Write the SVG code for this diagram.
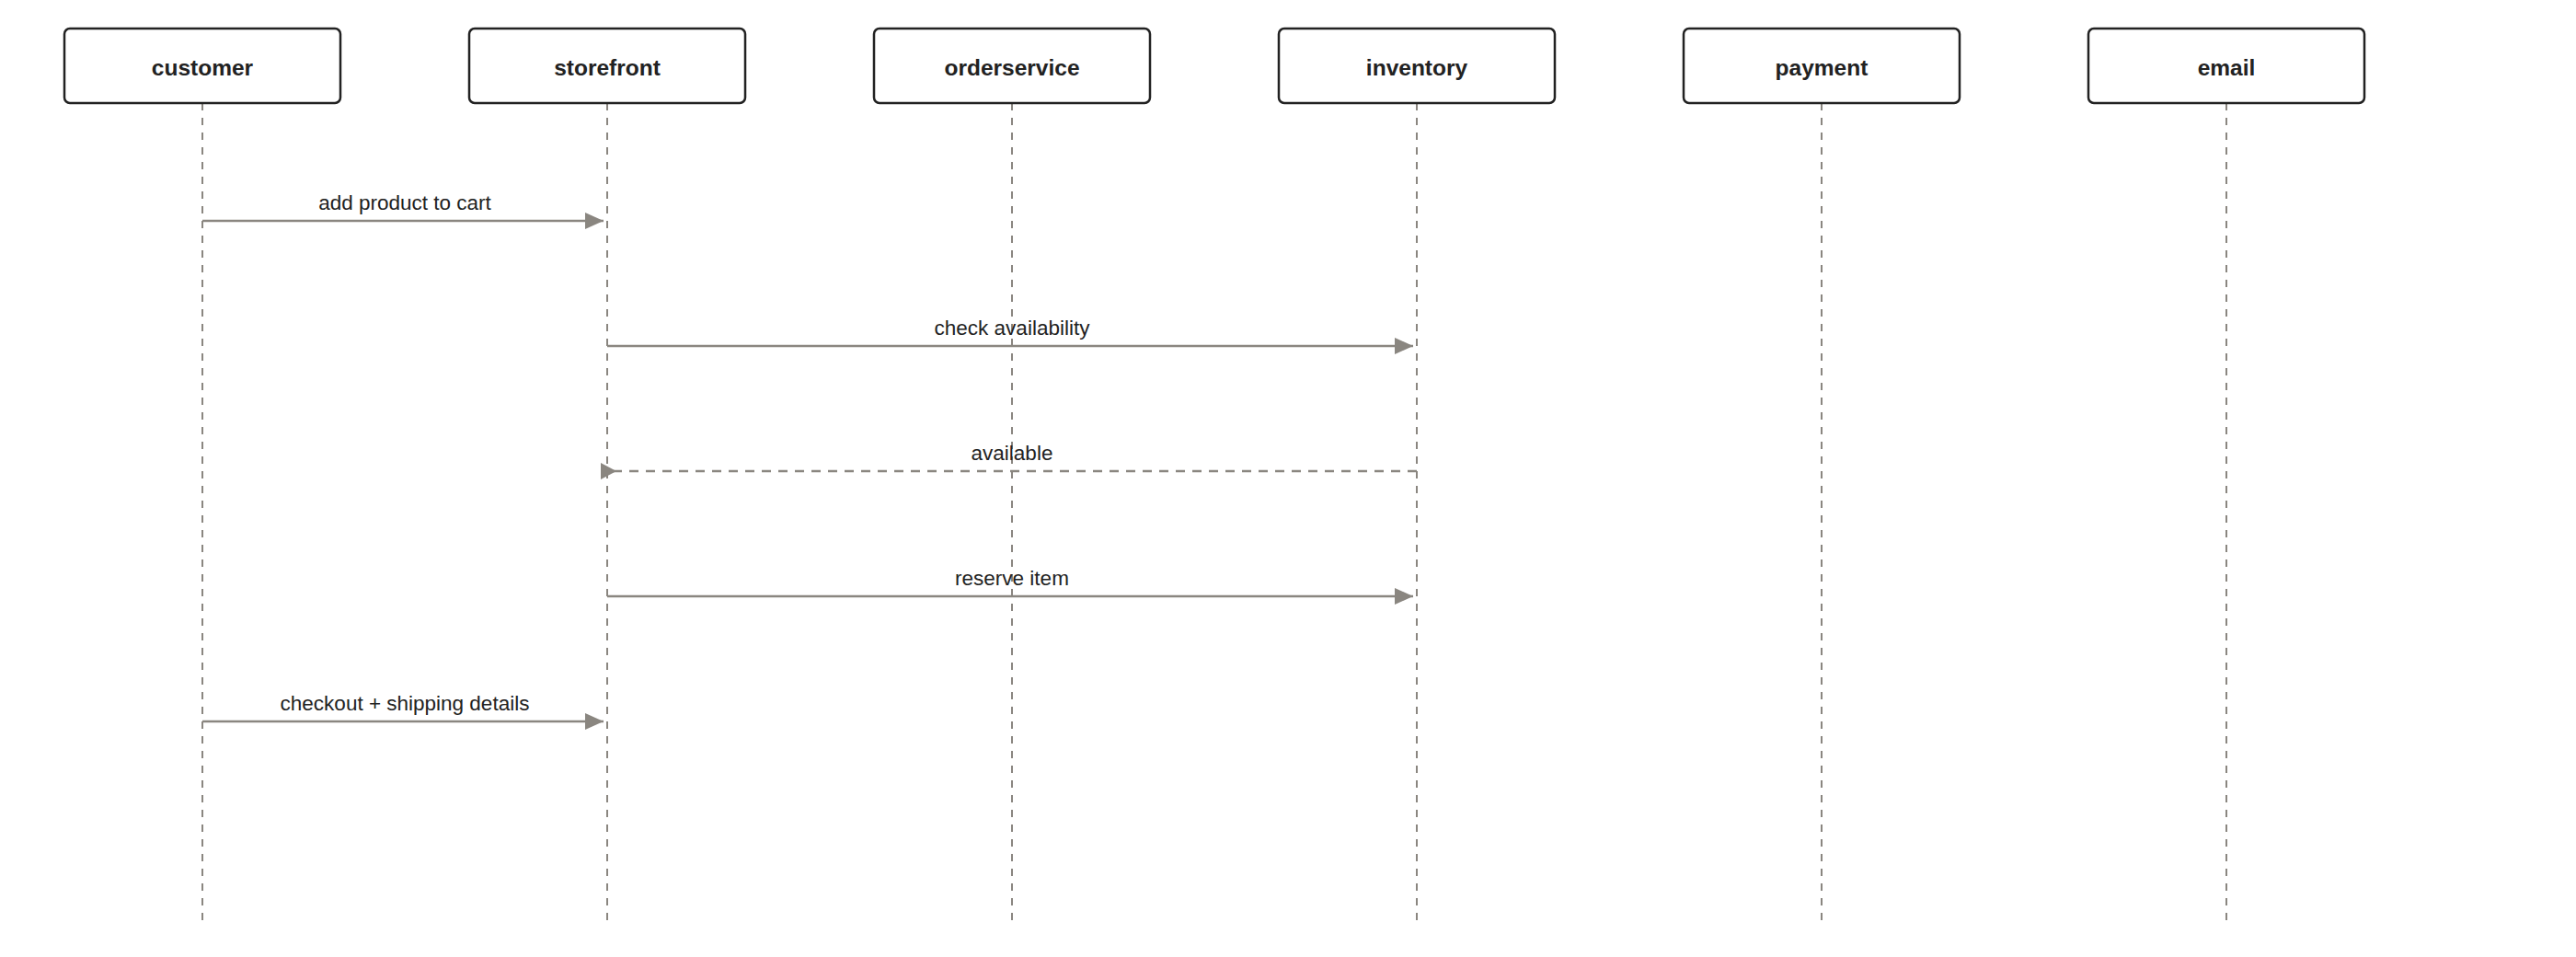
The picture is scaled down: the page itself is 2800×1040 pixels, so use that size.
<svg xmlns="http://www.w3.org/2000/svg" width="2800" height="1040" viewBox="0 0 2800 1040">
<style>
.box{fill:#ffffff;stroke:#222222;stroke-width:2.5}
.title{font-family:"Liberation Sans",Arial,sans-serif;font-weight:bold;font-size:24.5px;fill:#222222;text-anchor:middle}
.life{stroke:#8a8680;stroke-width:2;stroke-dasharray:8 8;fill:none}
.msg{stroke:#8a8680;stroke-width:2.5;fill:none}
.ret{stroke:#8a8680;stroke-width:2.5;fill:none;stroke-dasharray:10 8}
.lbl{font-family:"Liberation Sans",Arial,sans-serif;font-size:22.5px;fill:#222222;text-anchor:middle}
</style>
<defs>
<marker id="ah" markerWidth="20" markerHeight="18" refX="20" refY="9" orient="auto" markerUnits="userSpaceOnUse">
<path d="M0,0 L20,9 L0,18 Z" fill="#8a8680"/>
</marker>
<marker id="ahr" markerWidth="18" markerHeight="18" refX="3" refY="9" orient="0" markerUnits="userSpaceOnUse">
<path d="M0,0 L17,9 L0,18 Z" fill="#8a8680"/>
</marker>
</defs>
<g id="customer">
<line class="life" x1="220" y1="112" x2="220" y2="1000"/>
<rect class="box" x="70" y="31" width="300" height="81" rx="6"/>
<text class="title" x="220" y="82">customer</text>
</g>
<g id="storefront">
<line class="life" x1="660" y1="112" x2="660" y2="1000"/>
<rect class="box" x="510" y="31" width="300" height="81" rx="6"/>
<text class="title" x="660" y="82">storefront</text>
</g>
<g id="orderservice">
<line class="life" x1="1100" y1="112" x2="1100" y2="1000"/>
<rect class="box" x="950" y="31" width="300" height="81" rx="6"/>
<text class="title" x="1100" y="82">orderservice</text>
</g>
<g id="inventory">
<line class="life" x1="1540" y1="112" x2="1540" y2="1000"/>
<rect class="box" x="1390" y="31" width="300" height="81" rx="6"/>
<text class="title" x="1540" y="82">inventory</text>
</g>
<g id="payment">
<line class="life" x1="1980" y1="112" x2="1980" y2="1000"/>
<rect class="box" x="1830" y="31" width="300" height="81" rx="6"/>
<text class="title" x="1980" y="82">payment</text>
</g>
<g id="email">
<line class="life" x1="2420" y1="112" x2="2420" y2="1000"/>
<rect class="box" x="2270" y="31" width="300" height="81" rx="6"/>
<text class="title" x="2420" y="82">email</text>
</g>
<g id="connectors">
<line class="msg" x1="220" y1="240" x2="656" y2="240" marker-end="url(#ah)"/>
<text class="lbl" x="440" y="228">add product to cart</text>
<line class="msg" x1="660" y1="376" x2="1536" y2="376" marker-end="url(#ah)"/>
<text class="lbl" x="1100" y="364">check availability</text>
<line class="ret" x1="1540" y1="512" x2="656" y2="512" marker-end="url(#ahr)"/>
<text class="lbl" x="1100" y="500">available</text>
<line class="msg" x1="660" y1="648" x2="1536" y2="648" marker-end="url(#ah)"/>
<text class="lbl" x="1100" y="636">reserve item</text>
<line class="msg" x1="220" y1="784" x2="656" y2="784" marker-end="url(#ah)"/>
<text class="lbl" x="440" y="772">checkout + shipping details</text>
</g>
</svg>
